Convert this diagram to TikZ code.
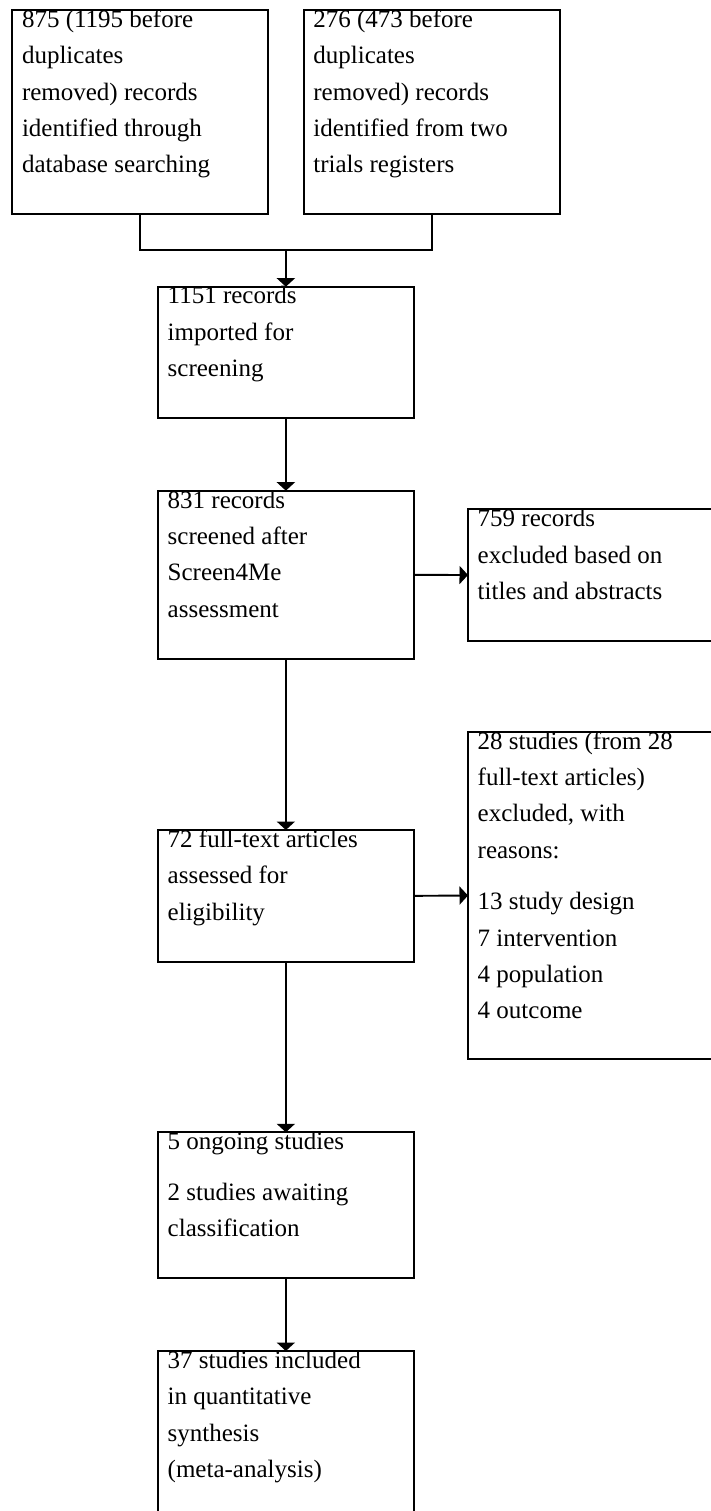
\documentclass[tikz,border=0pt]{standalone}
\usepackage{fontspec}
\setmainfont{Liberation Serif}
\usetikzlibrary{arrows.meta}
\newcommand\boxfont{\fontsize{25pt}{36.4pt}\selectfont}
\begin{document}
\begin{tikzpicture}[x=1pt,y=-1pt,
  box/.style={draw, line width=1.9pt, rectangle, anchor=north west, inner sep=0pt, outer sep=0pt},
  txt/.style={anchor=base west, inner sep=0pt, font=\boxfont},
  link/.style={line width=1.9pt},
  arr/.style={link, -{Triangle[length=8.5pt,width=18pt]}}]
\useasboundingbox (0,0) rectangle (711,1511);
\clip (0,0) rectangle (711,1511);
\fill[white] (0,0) rectangle (711,1511);
% boxes
\node[box, minimum width=255.4pt, minimum height=204.3pt] (A) at (12.3,10) {};
\node[box, minimum width=256pt, minimum height=204.3pt] (B) at (303.7,10) {};
\node[box, minimum width=255.7pt, minimum height=131.6pt] (C) at (158,286.7) {};
\node[box, minimum width=255.7pt, minimum height=168.3pt] (D) at (158,490.7) {};
\node[box, minimum width=256pt, minimum height=131.4pt] (E) at (468,509.3) {};
\node[box, minimum width=255.7pt, minimum height=131.7pt] (F) at (158,830) {};
\node[box, minimum width=256pt, minimum height=327.6pt] (G) at (468,731.7) {};
\node[box, minimum width=255.7pt, minimum height=146pt] (H) at (158,1132.3) {};
\node[box, minimum width=255.7pt, minimum height=190pt] (I) at (158,1351) {};
% texts
\node[txt] (tA) at ([xshift=9.5pt,yshift=-17.3pt]A.north west) {\parbox[t]{300pt}{875 (1195 before\\duplicates\\removed) records\\identified through\\database searching}};
\node[txt] (tB) at ([xshift=9.5pt,yshift=-17.3pt]B.north west) {\parbox[t]{300pt}{276 (473 before\\duplicates\\removed) records\\identified from two\\trials registers}};
\node[txt] (tC) at ([xshift=9.5pt,yshift=-17.3pt]C.north west) {\parbox[t]{300pt}{1151 records\\imported for\\screening}};
\node[txt] (tD) at ([xshift=9.5pt,yshift=-17.3pt]D.north west) {\parbox[t]{300pt}{831 records\\screened after\\Screen4Me\\assessment}};
\node[txt] (tE) at ([xshift=9.5pt,yshift=-17.3pt]E.north west) {\parbox[t]{300pt}{759 records\\excluded based on\\titles and abstracts}};
\node[txt] (tF) at ([xshift=9.5pt,yshift=-17.3pt]F.north west) {\parbox[t]{300pt}{72 full-text articles\\assessed for\\eligibility}};
\node[txt] (tG) at ([xshift=9.5pt,yshift=-17.3pt]G.north west) {\parbox[t]{300pt}{28 studies (from 28\\full-text articles)\\excluded, with\\reasons:\\[15pt]13 study design\\7 intervention\\4 population\\4 outcome}};
\node[txt] (tH) at ([xshift=9.5pt,yshift=-17.3pt]H.north west) {\parbox[t]{300pt}{5 ongoing studies\\[14.5pt]2 studies awaiting\\classification}};
\node[txt] (tI) at ([xshift=9.5pt,yshift=-17.3pt]I.north west) {\parbox[t]{300pt}{37 studies included\\in quantitative\\synthesis\\(meta-analysis)}};
% connectors
\coordinate (j) at (C.north |- 0,250);
\draw[link] (A.south) |- (j) -| (B.south);
\draw[arr] (j) -- (C.north);
\draw[arr] (C.south) -- (D.north);
\draw[arr] (D.east) -- (E.west);
\draw[arr] (D.south) -- (F.north);
\draw[arr] (F.east) -- (G.west);
\draw[arr] (F.south) -- (H.north);
\draw[arr] (H.south) -- (I.north);
\end{tikzpicture}
\end{document}
